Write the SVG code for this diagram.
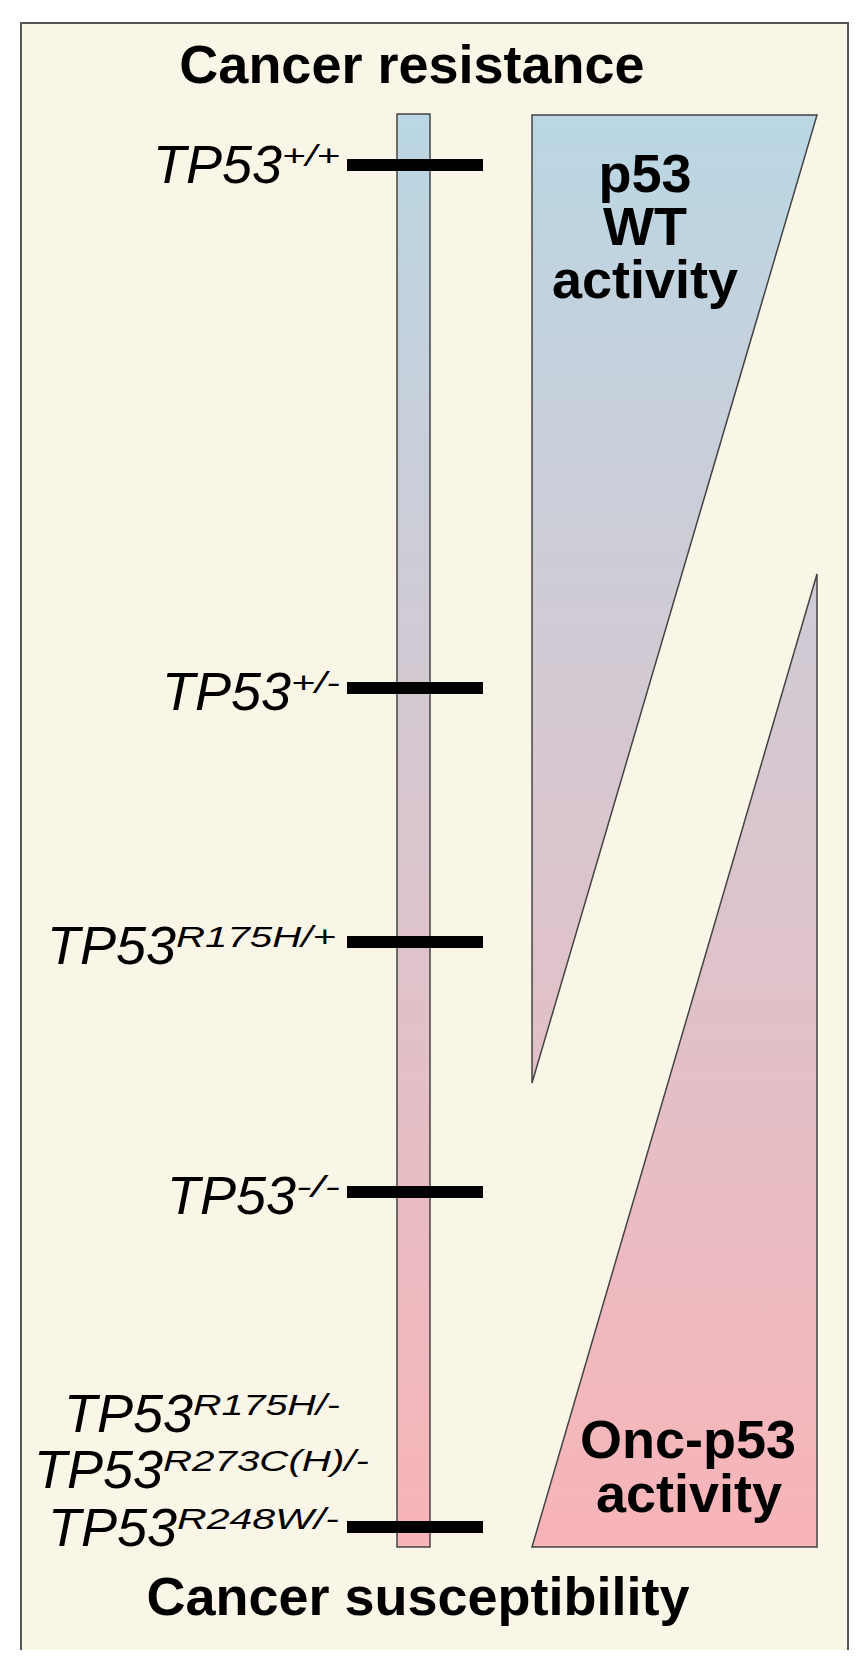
<svg xmlns="http://www.w3.org/2000/svg" width="866" height="1669" viewBox="0 0 866 1669">
  <style>
    .head { font-family: "Liberation Sans", Arial, sans-serif; font-weight: bold; font-size: 54px; fill: #000; text-anchor: middle; }
    .tp { font-family: "Liberation Sans", Arial, sans-serif; font-style: italic; font-size: 54px; fill: #000; text-anchor: end; }
    .sup { font-family: "Liberation Sans", Arial, sans-serif; font-style: italic; font-size: 29px; fill: #000; }
    .tick { fill: #000; }
    .grad { fill: url(#g); stroke: #444; stroke-width: 1.5; }
  </style>
  <defs>
    <linearGradient id="g" gradientUnits="userSpaceOnUse" x1="0" y1="115" x2="0" y2="1547">
      <stop offset="0" stop-color="#BAD7E4"/>
      <stop offset="1" stop-color="#F8B4B8"/>
    </linearGradient>
  </defs>
  <rect x="0" y="0" width="866" height="1669" fill="#FFFFFF"/>
  <g id="frame">
    <rect x="21" y="23" width="827" height="1627" fill="#F9F6E8"/>
    <path d="M21,1650 V23 H848 V1650" fill="none" stroke="#555" stroke-width="2"/>
  </g>
  <g id="heading-top"><text class="head" x="412" y="83">Cancer resistance</text></g>
  <g id="heading-bottom"><text class="head" x="418" y="1615">Cancer susceptibility</text></g>
  <g id="scale-bar"><rect class="grad" x="397" y="114" width="33" height="1433"/></g>
  <g id="wt-triangle">
    <polygon class="grad" points="532,115 817,115 532,1083"/>
    <text class="head" x="645" y="192">p53</text>
    <text class="head" x="645" y="245">WT</text>
    <text class="head" x="645" y="298">activity</text>
  </g>
  <g id="onc-triangle">
    <polygon class="grad" points="817,574 817,1547 532,1547"/>
    <text class="head" x="688" y="1458">Onc-p53</text>
    <text class="head" x="689" y="1512">activity</text>
  </g>
  <g id="connectors">
    <rect class="tick" x="347" y="159" width="136" height="12"/>
    <rect class="tick" x="347" y="682" width="136" height="12"/>
    <rect class="tick" x="347" y="936" width="136" height="12"/>
    <rect class="tick" x="347" y="1186" width="136" height="12"/>
    <rect class="tick" x="347" y="1521" width="136" height="12"/>
  </g>
  <g id="label-wt">
    <text class="tp" x="282" y="183">TP53</text>
    <text class="sup" x="282" y="166" textLength="58" lengthAdjust="spacingAndGlyphs">+/+</text>
  </g>
  <g id="label-het">
    <text class="tp" x="291" y="710">TP53</text>
    <text class="sup" x="291" y="693" textLength="49" lengthAdjust="spacingAndGlyphs">+/-</text>
  </g>
  <g id="label-r175h-wt">
    <text class="tp" x="176" y="964">TP53</text>
    <text class="sup" x="176" y="947" textLength="160" lengthAdjust="spacingAndGlyphs">R175H/+</text>
  </g>
  <g id="label-null">
    <text class="tp" x="296" y="1214">TP53</text>
    <text class="sup" x="296" y="1197" textLength="44" lengthAdjust="spacingAndGlyphs">-/-</text>
  </g>
  <g id="label-mutants">
    <text class="tp" x="193" y="1432">TP53</text>
    <text class="sup" x="193" y="1415" textLength="147" lengthAdjust="spacingAndGlyphs">R175H/-</text>
    <text class="tp" x="163" y="1488">TP53</text>
    <text class="sup" x="163" y="1471" textLength="206" lengthAdjust="spacingAndGlyphs">R273C(H)/-</text>
    <text class="tp" x="177" y="1546">TP53</text>
    <text class="sup" x="177" y="1529" textLength="162" lengthAdjust="spacingAndGlyphs">R248W/-</text>
  </g>
</svg>
